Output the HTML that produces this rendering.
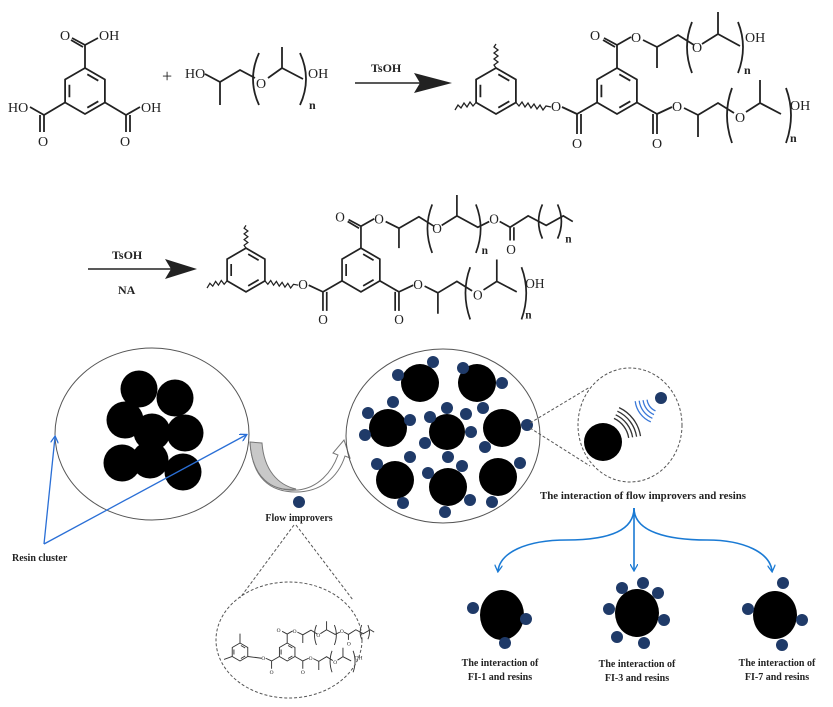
<!DOCTYPE html>
<html><head><meta charset="utf-8"><style>
html,body{margin:0;padding:0;background:#fff}
svg{display:block}
.ch text{font-family:"Liberation Serif",serif;font-size:14px;fill:#222}
.lbl{font-family:"Liberation Serif",serif;font-weight:bold;font-size:10px;fill:#222}
</style></head><body>
<svg width="833" height="707" viewBox="0 0 833 707" xmlns="http://www.w3.org/2000/svg">
<defs>
<marker id="ab" markerWidth="8" markerHeight="8" refX="6" refY="4" orient="auto" markerUnits="userSpaceOnUse"><path d="M0,0 L7,4 L0,8" fill="none" stroke="#2a6fd6" stroke-width="1.3"/></marker>
<marker id="at" markerWidth="8" markerHeight="8" refX="6" refY="4" orient="auto" markerUnits="userSpaceOnUse"><path d="M0,0 L7,4 L0,8" fill="none" stroke="#1a7ad4" stroke-width="1.3"/></marker>
</defs>

<!-- Reactant: trimesic acid -->
<g class="ch" fill="none" stroke="#222" stroke-width="1.8">
<g transform="translate(85,91)"><polygon points="0,-23 19.9,-11.5 19.9,11.5 0,23 -19.9,11.5 -19.9,-11.5"/><path d="M2.3,-16.7L13.3,-10.3M13.3,10.3L2.3,16.7M-15.6,6.3L-15.6,-6.3"/></g>
<path d="M85,68L85,45M85,45L72,38M83,47L71,40M85,45L98,38M65,102.5L44,115M44,115L30,107M44,115L44,132M40,115L40,132M105,102.5L126,115M126,115L140,107M126,115L126,132M130,115L130,132"/>
<text x="60" y="40" stroke="none">O</text><text x="99" y="40" stroke="none">OH</text>
<text x="8" y="112" stroke="none">HO</text><text x="38" y="146" stroke="none">O</text>
<text x="141" y="112" stroke="none">OH</text><text x="120" y="146" stroke="none">O</text>
<text x="162" y="82" stroke="none" style="font-size:18px">+</text>
<!-- glycol -->
<path d="M205,74L220,82L220,105M220,82L240,70L255,78M268,78L282,68L282,47M282,68L303,79"/>
<path d="M259,53Q247,79 259,105M300,53Q312,79 300,105"/>
<text x="185" y="78" stroke="none">HO</text><text x="256" y="88" stroke="none">O</text>
<text x="308" y="78" stroke="none">OH</text><text x="309" y="109" stroke="none" style="font-size:12px;font-weight:bold">n</text>
</g>

<!-- Arrow 1 -->
<line x1="355" y1="83" x2="420" y2="83" stroke="#222" stroke-width="1.5"/>
<polygon points="414,73 452,83 414,93 420,83" fill="#222"/>
<text x="371" y="72" font-family="Liberation Serif" font-weight="bold" font-size="12" fill="#222">TsOH</text>

<!-- Arrow 2 -->
<line x1="88" y1="269" x2="172" y2="269" stroke="#222" stroke-width="1.5"/>
<polygon points="165,259 197,269 165,279 171,269" fill="#222"/>
<text x="112" y="259" font-family="Liberation Serif" font-weight="bold" font-size="12" fill="#222">TsOH</text>
<text x="118" y="294" font-family="Liberation Serif" font-weight="bold" font-size="12" fill="#222">NA</text>

<!-- Product 1 -->
<g class="ch" fill="none" stroke="#222" stroke-width="1.8">
<g transform="translate(496,91)"><polygon points="0,-23 19.9,-11.5 19.9,11.5 0,23 -19.9,11.5 -19.9,-11.5"/><path d="M2.3,-16.7L13.3,-10.3M13.3,10.3L2.3,16.7M-15.6,6.3L-15.6,-6.3"/></g>
<g transform="translate(617,91)"><polygon points="0,-23 19.9,-11.5 19.9,11.5 0,23 -19.9,11.5 -19.9,-11.5"/><path d="M2.3,-16.7L13.3,-10.3M13.3,10.3L2.3,16.7M-15.6,6.3L-15.6,-6.3"/></g>
<path stroke-width="1.3" d="M496,68L494,65L498,62L494,59L498,56L494,53L498,50L494,47L496,44M476,102.5L473,106L470,102L467,107L464,103L461,108L458,105L455,110M516,102.5L519,106L522,102L525,107L528,103L531,108L534,104L537,109L540,105L543,110L546,106L551,107"/>
<path d="M617,68L617,45M617,45L604,38M615,47L603,40M617,45L631,37M643,40L657,47L657,68M657,47L678,35L694,45M702,44L718,34L718,12M718,34L740,46"/>
<path d="M692,22Q682,47 692,73M738,22Q748,47 738,73"/>
<path d="M597,102.5L577,114M577,114L562,107M577,114L577,134M581,114L581,134M637,102.5L657,114M657,114L672,107M657,114L657,134M653,114L653,134M684,108L698,115L698,137M698,115L718,103L734,113M746,112L760,103L760,80M760,103L781,114"/>
<path d="M732,88Q722,115 732,143M786,88Q796,115 786,143"/>
<g stroke="none"><text x="590" y="40">O</text><text x="631" y="42">O</text><text x="692" y="52">O</text><text x="745" y="42">OH</text><text x="744" y="74" style="font-size:12px;font-weight:bold">n</text>
<text x="551" y="111">O</text><text x="572" y="148">O</text><text x="652" y="148">O</text><text x="672" y="111">O</text><text x="735" y="122">O</text><text x="790" y="110">OH</text><text x="790" y="142" style="font-size:12px;font-weight:bold">n</text></g>
</g>

<!-- Product 2 (row 2) -->
<g class="ch" fill="none" stroke="#222" stroke-width="1.8" transform="translate(246,270) scale(0.95) translate(-496,-91)">
<g transform="translate(496,91)"><polygon points="0,-23 19.9,-11.5 19.9,11.5 0,23 -19.9,11.5 -19.9,-11.5"/><path d="M2.3,-16.7L13.3,-10.3M13.3,10.3L2.3,16.7M-15.6,6.3L-15.6,-6.3"/></g>
<g transform="translate(617,91)"><polygon points="0,-23 19.9,-11.5 19.9,11.5 0,23 -19.9,11.5 -19.9,-11.5"/><path d="M2.3,-16.7L13.3,-10.3M13.3,10.3L2.3,16.7M-15.6,6.3L-15.6,-6.3"/></g>
<path stroke-width="1.3" d="M496,68L494,65L498,62L494,59L498,56L494,53L498,50L494,47L496,44M476,102.5L473,106L470,102L467,107L464,103L461,108L458,105L455,110M516,102.5L519,106L522,102L525,107L528,103L531,108L534,104L537,109L540,105L543,110L546,106L551,107"/>
<path d="M617,68L617,45M617,45L604,38M615,47L603,40M617,45L631,37M643,40L657,47L657,68M657,47L678,35L694,45M702,44L718,34L718,12M718,34L740,46L752,40"/>
<path d="M692,22Q682,47 692,73M738,22Q748,47 738,73"/>
<path d="M763,40L774,46L774,60M778,46L778,60M774,46L793,34L812,44L830,34L840,40"/>
<path d="M808,22Q800,40 808,58M824,22Q832,40 824,58"/>
<path d="M597,102.5L577,114M577,114L562,107M577,114L577,134M581,114L581,134M637,102.5L657,114M657,114L672,107M657,114L657,134M653,114L653,134M684,108L698,115L698,137M698,115L718,103L734,113M746,112L760,103L760,80M760,103L781,114"/>
<path d="M732,88Q722,115 732,143M786,88Q796,115 786,143"/>
<g stroke="none"><text x="590" y="40">O</text><text x="631" y="42">O</text><text x="692" y="52">O</text><text x="752" y="42">O</text><text x="744" y="74" style="font-size:12px;font-weight:bold">n</text><text x="770" y="74">O</text><text x="832" y="62" style="font-size:12px;font-weight:bold">n</text>
<text x="551" y="111">O</text><text x="572" y="148">O</text><text x="652" y="148">O</text><text x="672" y="111">O</text><text x="735" y="122">O</text><text x="790" y="110">OH</text><text x="790" y="142" style="font-size:12px;font-weight:bold">n</text></g>
</g>

<!-- Small product in dashed ellipse -->
<g class="ch" fill="none" stroke="#333" stroke-width="2.4" transform="translate(240,652) scale(0.39) translate(-496,-91)">
<g transform="translate(496,91)"><polygon points="0,-23 19.9,-11.5 19.9,11.5 0,23 -19.9,11.5 -19.9,-11.5"/><path d="M2.3,-16.7L13.3,-10.3M13.3,10.3L2.3,16.7M-15.6,6.3L-15.6,-6.3"/></g>
<g transform="translate(617,91)"><polygon points="0,-23 19.9,-11.5 19.9,11.5 0,23 -19.9,11.5 -19.9,-11.5"/><path d="M2.3,-16.7L13.3,-10.3M13.3,10.3L2.3,16.7M-15.6,6.3L-15.6,-6.3"/></g>
<path d="M496,68L496,44M476,102.5L455,110M516,102.5L551,107"/>
<path d="M617,68L617,45M617,45L604,38M617,45L631,37M643,40L657,47L657,68M657,47L678,35L694,45M702,44L718,34L718,12M718,34L740,46L752,40"/>
<path d="M692,22Q682,47 692,73M738,22Q748,47 738,73"/>
<path d="M763,40L774,46L774,60M774,46L793,34L812,44L830,34L840,40"/>
<path d="M808,22Q800,40 808,58M824,22Q832,40 824,58"/>
<path d="M597,102.5L577,114M577,114L562,107M577,114L577,134M637,102.5L657,114M657,114L672,107M657,114L657,134M684,108L698,115L698,137M698,115L718,103L734,113M746,112L760,103L760,80M760,103L781,114"/>
<path d="M732,88Q722,115 732,143M786,88Q796,115 786,143"/>
<g stroke="none"><text x="590" y="40">O</text><text x="631" y="42">O</text><text x="692" y="52">O</text><text x="752" y="42">O</text><text x="770" y="74">O</text>
<text x="551" y="111">O</text><text x="572" y="148">O</text><text x="652" y="148">O</text><text x="672" y="111">O</text><text x="735" y="122">O</text><text x="790" y="110">OH</text></g>
</g>

<!-- Left resin cluster -->
<ellipse cx="152" cy="434" rx="97" ry="86" fill="none" stroke="#555" stroke-width="1"/>
<g fill="#000">
<circle cx="139" cy="389" r="18.5"/><circle cx="175" cy="398" r="18.5"/><circle cx="125" cy="420" r="18.5"/><circle cx="152" cy="432" r="18.5"/><circle cx="185" cy="433" r="18.5"/><circle cx="122" cy="463" r="18.5"/><circle cx="150" cy="460" r="18.5"/><circle cx="183" cy="472" r="18.5"/>
</g>
<line x1="44" y1="544" x2="55" y2="437" stroke="#2a6fd6" stroke-width="1.3" marker-end="url(#ab)"/>
<line x1="44" y1="544" x2="246" y2="435" stroke="#2a6fd6" stroke-width="1.3" marker-end="url(#ab)"/>
<text x="12" y="561" class="lbl">Resin cluster</text>

<!-- Curved arrow -->
<path d="M250,442 C252,480 275,492 298,490 C318,488 332,472 338,455 L333,453 L344,440 L350,458 L345,456 C338,478 320,492 296,492 C270,492 252,478 250,442 Z" fill="#fff" stroke="#777" stroke-width="1"/>
<path d="M250,442 L262,443 C264,470 278,485 296,489 C272,492 252,478 250,442 Z" fill="#c8c8c8" stroke="#777" stroke-width="1"/>
<circle cx="299" cy="502" r="6" fill="#1f3a68"/>
<text x="299" y="521" class="lbl" text-anchor="middle">Flow improvers</text>
<line x1="294" y1="525" x2="240" y2="598" stroke="#555" stroke-width="1" stroke-dasharray="3,2"/>
<line x1="296" y1="525" x2="353" y2="600" stroke="#555" stroke-width="1" stroke-dasharray="3,2"/>
<ellipse cx="289" cy="640" rx="73" ry="58" fill="none" stroke="#555" stroke-width="1" stroke-dasharray="3,2"/>

<!-- Middle dispersion -->
<ellipse cx="443" cy="436" rx="97" ry="87" fill="none" stroke="#555" stroke-width="1"/>
<g fill="#000">
<circle cx="420" cy="383" r="19"/><circle cx="477" cy="383" r="19"/><circle cx="388" cy="428" r="19"/><circle cx="447" cy="432" r="18"/><circle cx="502" cy="428" r="19"/><circle cx="395" cy="480" r="19"/><circle cx="448" cy="487" r="19"/><circle cx="498" cy="477" r="19"/>
</g>
<g fill="#1f3a68">
<circle cx="433" cy="362" r="6"/><circle cx="398" cy="375" r="6"/><circle cx="463" cy="368" r="6"/><circle cx="502" cy="383" r="6"/><circle cx="393" cy="402" r="6"/><circle cx="368" cy="413" r="6"/><circle cx="410" cy="420" r="6"/><circle cx="365" cy="435" r="6"/><circle cx="430" cy="417" r="6"/><circle cx="447" cy="408" r="6"/><circle cx="466" cy="414" r="6"/><circle cx="483" cy="408" r="6"/><circle cx="471" cy="432" r="6"/><circle cx="425" cy="443" r="6"/><circle cx="448" cy="457" r="6"/><circle cx="485" cy="447" r="6"/><circle cx="527" cy="425" r="6"/><circle cx="410" cy="457" r="6"/><circle cx="377" cy="464" r="6"/><circle cx="462" cy="466" r="6"/><circle cx="520" cy="463" r="6"/><circle cx="403" cy="503" r="6"/><circle cx="428" cy="473" r="6"/><circle cx="445" cy="512" r="6"/><circle cx="470" cy="500" r="6"/><circle cx="492" cy="502" r="6"/>
</g>
<line x1="530" y1="423" x2="590" y2="387" stroke="#555" stroke-width="1" stroke-dasharray="3,2"/>
<line x1="530" y1="428" x2="590" y2="466" stroke="#555" stroke-width="1" stroke-dasharray="3,2"/>
<ellipse cx="630" cy="425" rx="52" ry="57" fill="none" stroke="#555" stroke-width="1" stroke-dasharray="3,2"/>
<circle cx="603" cy="442" r="19" fill="#000"/>
<circle cx="661" cy="398" r="6" fill="#1f3a68"/>
<g fill="none" stroke="#333" stroke-width="1.3">
<path d="M614,418.4A26,26 0 0 1 628.7,437.9"/><path d="M615.7,414.8A30,30 0 0 1 632.6,437.3"/><path d="M617.4,411.2A34,34 0 0 1 636.6,436.7"/><path d="M619.1,407.6A38,38 0 0 1 640.5,436.1"/>
</g>
<g fill="none" stroke="#3a78d8" stroke-width="1.3">
<path d="M655.5,410.9A14,14 0 0 1 647.1,399.7"/><path d="M654,414.6A18,18 0 0 1 643.1,400.2"/><path d="M652.4,418.3A22,22 0 0 1 639.2,400.7"/><path d="M650.8,421.9A26,26 0 0 1 635.2,401.2"/>
</g>
<text x="643" y="499" class="lbl" text-anchor="middle" textLength="206" lengthAdjust="spacingAndGlyphs">The interaction of flow improvers and resins</text>

<!-- Tree -->
<g fill="none" stroke="#1a7ad4" stroke-width="1.6">
<path d="M634,508 L634,570" marker-end="url(#at)"/>
<path d="M634,508 C634,532 605,540 567,540 C525,540 500,553 498,571" marker-end="url(#at)"/>
<path d="M634,508 C634,532 668,540 707,540 C745,540 770,553 772,571" marker-end="url(#at)"/>
</g>

<!-- bottom interactions -->
<ellipse cx="502" cy="615" rx="22" ry="25" fill="#000"/>
<ellipse cx="637" cy="613" rx="22" ry="24" fill="#000"/>
<ellipse cx="775" cy="615" rx="22" ry="24" fill="#000"/>
<g fill="#1f3a68">
<circle cx="473" cy="608" r="6"/><circle cx="526" cy="619" r="6"/><circle cx="505" cy="643" r="6"/>
<circle cx="622" cy="588" r="6"/><circle cx="643" cy="583" r="6"/><circle cx="658" cy="593" r="6"/><circle cx="609" cy="609" r="6"/><circle cx="664" cy="620" r="6"/><circle cx="617" cy="637" r="6"/><circle cx="644" cy="643" r="6"/>
<circle cx="783" cy="583" r="6"/><circle cx="748" cy="609" r="6"/><circle cx="802" cy="620" r="6"/><circle cx="782" cy="645" r="6"/>
</g>
<g class="lbl" text-anchor="middle">
<text x="500" y="666">The interaction of</text><text x="500" y="680">FI-1 and resins</text>
<text x="637" y="667">The interaction of</text><text x="637" y="681">FI-3 and resins</text>
<text x="777" y="666">The interaction of</text><text x="777" y="680">FI-7 and resins</text>
</g>
</svg>
</body></html>
